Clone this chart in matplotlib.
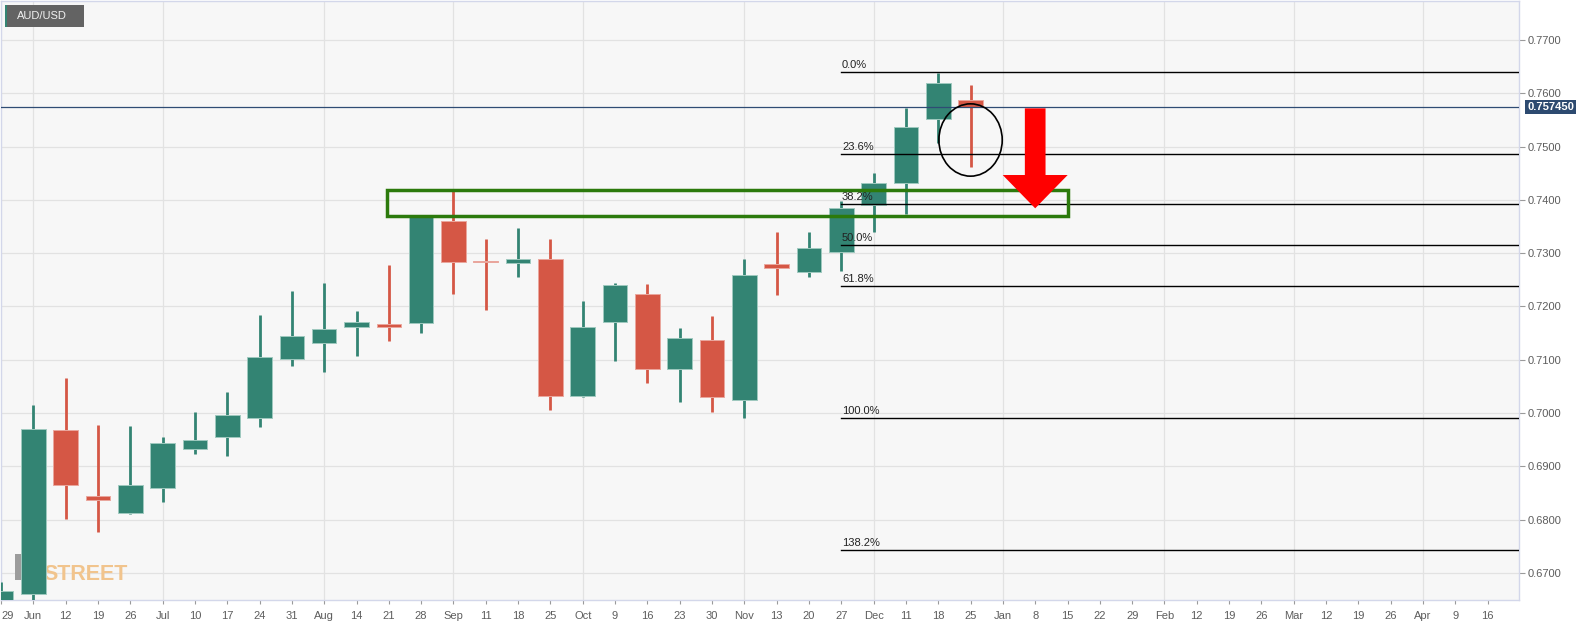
import matplotlib
matplotlib.use("Agg")
import matplotlib.pyplot as plt
from matplotlib.patches import Rectangle, Ellipse, FancyArrow

# weekly AUD/USD candles, one per Friday label
week_labels = ["29", "Jun", "12", "19", "26", "Jul", "10", "17", "24", "31",
               "Aug", "14", "21", "28", "Sep", "11", "18", "25", "Oct", "9",
               "16", "23", "30", "Nov", "13", "20", "27", "Dec", "11", "18",
               "25", "Jan", "8", "15", "22", "29", "Feb", "12", "19", "26",
               "Mar", "12", "19", "26", "Apr", "9", "16"]

opens = [0.6540, 0.6661, 0.6968, 0.6844, 0.6813, 0.6860, 0.6933, 0.6955,
         0.6990, 0.7102, 0.7131, 0.7162, 0.7168, 0.7169, 0.7361, 0.7286,
         0.7281, 0.7290, 0.7033, 0.7170, 0.7223, 0.7082, 0.7137, 0.7025,
         0.7279, 0.7265, 0.7303, 0.7390, 0.7431, 0.7552, 0.7588]
highs = [0.6684, 0.7015, 0.7065, 0.6978, 0.6975, 0.6955, 0.7002, 0.7039,
         0.7184, 0.7229, 0.7245, 0.7191, 0.7277, 0.7372, 0.7416, 0.7326,
         0.7347, 0.7326, 0.7210, 0.7245, 0.7242, 0.7159, 0.7182, 0.7290,
         0.7340, 0.7340, 0.7398, 0.7450, 0.7572, 0.7639, 0.7616]
lows = [0.6520, 0.6640, 0.6801, 0.6776, 0.6811, 0.6833, 0.6923, 0.6920,
        0.6973, 0.7088, 0.7077, 0.7108, 0.7135, 0.7150, 0.7223, 0.7193,
        0.7255, 0.7006, 0.7030, 0.7097, 0.7057, 0.7020, 0.7002, 0.6990,
        0.7221, 0.7255, 0.7267, 0.7339, 0.7373, 0.7507, 0.7461]
closes = [0.6666, 0.6970, 0.6865, 0.6837, 0.6866, 0.6943, 0.6950, 0.6996,
          0.7106, 0.7144, 0.7158, 0.7170, 0.7161, 0.7368, 0.7284, 0.7284,
          0.7289, 0.7032, 0.7162, 0.7240, 0.7082, 0.7140, 0.7030, 0.7259,
          0.7272, 0.7310, 0.7384, 0.7432, 0.7536, 0.7619, 0.75745]

price_ticks = [0.67, 0.68, 0.69, 0.70, 0.71, 0.72, 0.73, 0.74, 0.75, 0.76, 0.77]
last_price = 0.75745

# fibonacci retracement drawn from the Nov low to the Dec high
fib_high = 0.76394
fib_low = 0.69914
fib_levels = [0.0, 23.6, 38.2, 50.0, 61.8, 100.0, 138.2]
fib_start = 26

# drawn annotations
zone_left, zone_right = 11.95, 33.0
zone_bottom, zone_top = 0.73698, 0.74186
circle_x, circle_y = 30, 0.75124
circle_w, circle_h = 1.96, 0.01357
arrow_x, arrow_top, arrow_tip = 32.0, 0.75718, 0.73842

GREEN = "#338473"
RED = "#d55745"

plt.rcParams["font.family"] = ["Liberation Sans", "DejaVu Sans"]

W, H = 1590, 626
fig = plt.figure(figsize=(W / 100, H / 100), dpi=100)
fig.patch.set_facecolor("white")
ax = fig.add_axes([1 / W, (H - 600) / H, 1518 / W, 599 / H])
ax.set_facecolor("#f7f7f7")

def fpx(x, y):
    # pixel position in the picture -> figure fraction
    return x / W, 1 - y / H

# candles
for i in range(len(opens)):
    o, h, l, c = opens[i], highs[i], lows[i], closes[i]
    col = GREEN if c >= o else RED
    edge = "#9fc9bf" if c >= o else "#eaa79d"
    ax.vlines(i, l, h, color=col, lw=2.0, zorder=3)
    body = max(abs(c - o), 0.00004)
    ax.add_patch(Rectangle((i - 0.38, min(o, c)), 0.76, body,
                           facecolor=col, edgecolor=edge, lw=0.7, zorder=4))

# last price line
ax.axhline(last_price, color="#2f4c74", lw=0.9, zorder=5)

# fibonacci lines
fib_range = fib_high - fib_low
for lvl in fib_levels:
    p = fib_high - lvl / 100 * fib_range
    ax.plot([fib_start, 50], [p, p], color="black", lw=1.0, zorder=6)
    ax.annotate(f"{lvl:.1f}%", (fib_start, p), xytext=(0.5, 1.5),
                textcoords="offset points", fontsize=8, color="#222222",
                ha="left", va="bottom", zorder=6)

# support zone
ax.add_patch(Rectangle((zone_left, zone_bottom), zone_right - zone_left,
                       zone_top - zone_bottom, fill=False,
                       edgecolor="#2c7a0c", lw=2.5, zorder=7))

# circle around the latest candle
ax.add_patch(Ellipse((circle_x, circle_y), circle_w, circle_h, fill=False,
                     edgecolor="black", lw=1.2, zorder=7))

# red down arrow
ax.add_patch(FancyArrow(arrow_x, arrow_top, 0, arrow_tip - arrow_top,
                        width=0.64, head_width=2.01, head_length=0.00625,
                        length_includes_head=True, color="#ff0000", lw=0,
                        zorder=8))

# watermark
ax.add_patch(Rectangle((14 / 1518, 20 / 599), 30 / 1518, 26 / 599,
                       transform=ax.transAxes, facecolor="#9c9c9c",
                       edgecolor="none", zorder=1))
ax.text(42 / 1518, 20 / 599, "STREET", transform=ax.transAxes,
        fontweight="bold", fontsize=15.5, color="#f1c48d", ha="left",
        va="baseline", zorder=1)

# axes
ax.set_xlim(0.03, 46.97)
ax.set_ylim(0.66493, 0.77732)
ax.set_xticks(range(len(week_labels)))
ax.set_xticklabels(week_labels)
ax.get_xticklabels()[0].set_horizontalalignment("left")
ax.yaxis.tick_right()
ax.set_yticks(price_ticks)
ax.set_yticklabels([f"{p:.4f}" for p in price_ticks])
ax.tick_params(axis="x", length=3, pad=5, color="#9a9a9a",
               labelsize=8, labelcolor="#5d5d5d")
ax.tick_params(axis="y", length=4, pad=2, color="#9a9a9a",
               labelsize=8, labelcolor="#5d5d5d")

# grid: horizontal at every price tick, vertical at month starts
for p in price_ticks:
    ax.axhline(p, color="#e2e2e2", lw=0.9, zorder=0)
for i, lab in enumerate(week_labels):
    if lab.isalpha():
        ax.axvline(i, color="#e2e2e2", lw=0.9, zorder=0)

for s in ax.spines.values():
    s.set_color("#d3d7ea")
    s.set_linewidth(1.0)

# last price badge
ax.annotate(f"{last_price:.6f}", (1.0, last_price),
            xycoords=("axes fraction", "data"), xytext=(6, 0),
            textcoords="offset points", fontsize=8, fontweight="bold",
            color="white", ha="left", va="center",
            bbox=dict(boxstyle="square,pad=0.2", fc="#2d4a70", ec="none"),
            annotation_clip=False)

# symbol badge
x0, y0 = fpx(5, 27)
x1, y1 = fpx(84, 5)
fig.patches.append(Rectangle((x0, y0), x1 - x0, y1 - y0,
                             transform=fig.transFigure, facecolor="#636363",
                             edgecolor="none", zorder=10))
sx, _ = fpx(7.3, 0)
fig.patches.append(Rectangle((x0, y0), sx - x0, y1 - y0,
                             transform=fig.transFigure, facecolor=GREEN,
                             edgecolor="none", zorder=11))
tx, ty = fpx(17, 16)
fig.text(tx, ty, "AUD/USD", fontsize=8, color="#f0f0f0", ha="left",
         va="center", zorder=12)

fig.savefig("out.png", dpi=100)
